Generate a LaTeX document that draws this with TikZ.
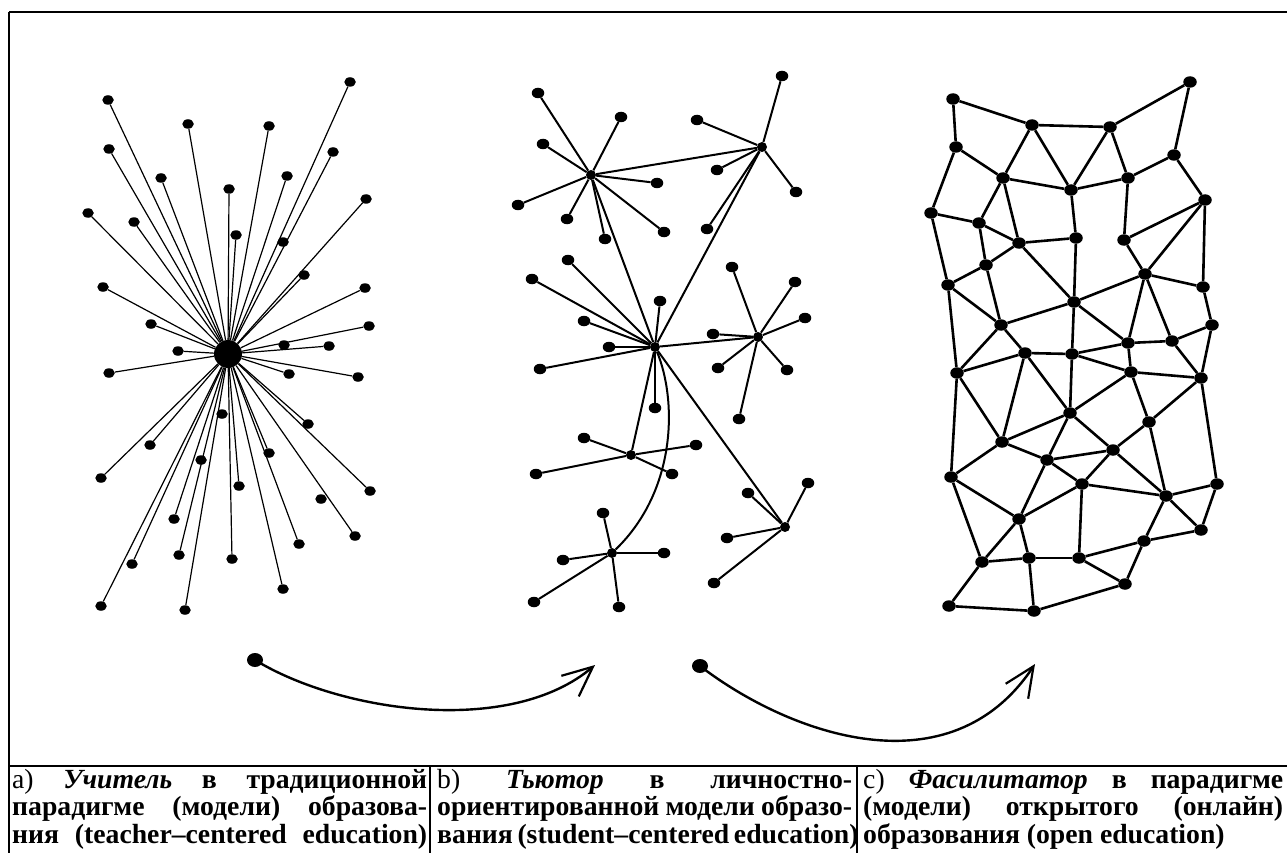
\documentclass[tikz,border=0pt]{standalone}
\usepackage{fontspec}
\setmainfont{Liberation Serif}
\usetikzlibrary{shapes.geometric,arrows.meta}
\newcommand{\capfill}[2]{\makebox[#1][s]{#2}}
\begin{document}
\begin{tikzpicture}[x=1pt,y=-1pt,
  dotA/.style={ellipse,fill=black,inner sep=0pt,minimum width=11.5pt,minimum height=9.5pt},
  hubA/.style={circle,fill=black,inner sep=0pt,minimum size=28pt},
  edgeA/.style={line width=1.2pt,black},
  dotB/.style={ellipse,fill=black,inner sep=0pt,minimum width=12.5pt,minimum height=10.5pt},
  hubB/.style={circle,fill=black,inner sep=0pt,minimum size=10pt},
  edgeB/.style={line width=2pt,black},
  dotC/.style={ellipse,fill=black,inner sep=0pt,minimum width=13.5pt,minimum height=11.5pt},
  edgeC/.style={line width=2.6pt,black},
  startdot/.style={ellipse,fill=black,inner sep=0pt,minimum width=16pt,minimum height=14pt},
  flow/.style={line width=2.4pt,black,-{Straight Barb[length=30pt,width=27pt,line width=2.2pt]}},
  frameline/.style={line width=1.3pt,black},
  sepline/.style={line width=2pt,black},
  capt/.style={inner sep=0pt,anchor=base west,font=\fontsize{27.7pt}{27.7pt}\selectfont\bfseries}
]
\useasboundingbox (0,0) rectangle (1287,853);
\fill[white] (0,0) rectangle (1287,853);

% ---------- frame ----------
\coordinate (fTL) at (9,12);
\coordinate (fTR) at (1287,12);
\coordinate (fBL) at (9,853);
\coordinate (sL) at (9,766);
\coordinate (sR) at (1287,766);
\coordinate (d1t) at (430,766);
\coordinate (d1b) at (430,853);
\coordinate (d2t) at (857,766);
\coordinate (d2b) at (857,853);
\draw[frameline] (fTR) -- (fTL);
\draw[line width=2.4pt] (fTL) -- (fBL);
\draw[sepline] (sL) -- (sR);
\draw[sepline] (d1t) -- (d1b);
\draw[sepline] (d2t) -- (d2b);

% ---------- graph a ----------
\node[hubA] (ac) at (228,354) {};
\foreach \n/\x/\y in {a1/350/82,a2/108/100,a3/188/124,a4/269/126,a5/109/149,a6/333/152,
  a7/161/178,a8/287/176,a9/229/189,a10/366/199,a11/88/213,a12/134/222,a13/236/235,
  a14/283/242,a15/304/275,a16/103/287,a17/365/288,a18/151/324,a19/369/326,a20/284/345,
  a21/329/346,a22/178/351,a23/109/373,a24/289/374,a25/358/377,a26/222/414,a27/308/424,
  a28/150/445,a29/101/478,a30/201/460,a31/269/453,a32/239/486,a33/370/491,a34/321/499,
  a35/174/519,a36/355/536,a37/299/544,a38/179/555,a39/132/564,a40/232/559,a41/283/589,
  a42/101/606,a43/185/610}
  \node[dotA] (\n) at (\x,\y) {};
\foreach \n in {a1,a2,a3,a4,a5,a6,a7,a8,a9,a10,a11,a12,a13,a15,a16,a17,a18,a19,
  a21,a22,a23,a24,a25,a27,a28,a29,a31,a32,a33,a35,a36,a37,a38,a39,a40,a41,a42,a43}
  \draw[edgeA] (ac) -- (\n);

% ---------- graph b ----------
\foreach \n/\x/\y in {b1/591/175,b2/762/147,b3/655/347,b4/758/337,b5/631/455,b6/612/553,b7/785/527}
  \node[hubB] (\n) at (\x,\y) {};
\foreach \n/\x/\y in {b1a/538/93,b1b/621/117,b1c/543/144,b1d/657/183,b1e/518/205,b1f/567/219,
  b1g/605/239,b1h/664/232,
  b2a/782/76,b2b/697/120,b2c/717/170,b2d/796/192,b2e/707/229,
  b3a/568/260,b3b/532/279,b3c/660/301,b3d/584/321,b3e/609/347,b3f/540/369,b3g/655/408,
  b4a/732/267,b4b/795/282,b4c/805/318,b4d/713/334,b4e/718/368,b4f/787/370,b4g/739/419,
  b5a/584/438,b5b/696/445,b5c/672/474,b5d/536/474,
  b6a/603/513,b6b/563/560,b6c/664/553,b6d/534/602,b6e/619/607,
  b7a/808/483,b7b/748/493,b7c/727/538,b7d/714/583}
  \node[dotB] (\n) at (\x,\y) {};
\foreach \h/\n in {b1/b1a,b1/b1b,b1/b1c,b1/b1d,b1/b1e,b1/b1f,b1/b1g,b1/b1h,
  b2/b2a,b2/b2b,b2/b2c,b2/b2d,b2/b2e,
  b3/b3a,b3/b3b,b3/b3c,b3/b3d,b3/b3e,b3/b3f,b3/b3g,
  b4/b4a,b4/b4b,b4/b4c,b4/b4d,b4/b4e,b4/b4f,b4/b4g,
  b5/b5a,b5/b5b,b5/b5c,b5/b5d,
  b6/b6a,b6/b6b,b6/b6c,b6/b6d,b6/b6e,
  b7/b7a,b7/b7b,b7/b7c,b7/b7d,
  b1/b2,b1/b3,b2/b3,b3/b4,b3/b5,b3/b7}
  \draw[edgeB] (\h) -- (\n);
\draw[edgeB] (b3) .. controls (677,400) and (677,490) .. (b6);

% ---------- graph c ----------
\foreach \n/\x/\y in {c1/953/99,c2/1190/82,c3/1032/125,c4/1110/127,c5/956/147,c6/1174/155,
  c7/1003/178,c8/1128/178,c9/1071/190,c10/1205/200,c11/931/213,c12/979/223,c13/1019/243,
  c14/1076/238,c15/1124/240,c16/986/265,c17/1145/274,c18/948/285,c19/1203/287,c20/1074/302,
  c21/1001/325,c22/1212/325,c23/1128/343,c24/1172/341,c25/1025/353,c26/1072/354,
  c27/957/373,c28/1131/372,c29/1201/378,c30/1070/413,c31/1149/422,c32/1002/442,
  c33/1113/450,c34/1047/460,c35/951/477,c36/1082/484,c37/1217/484,c38/1166/496,
  c39/1019/519,c40/1201/530,c41/1144/541,c42/982/562,c43/1029/558,c44/1079/558,
  c45/1125/584,c46/949/606,c47/1034/611}
  \node[dotC] (\n) at (\x,\y) {};
\foreach \a/\b in {c1/c3,c1/c5,c3/c4,c4/c2,c2/c6,c5/c7,c5/c11,c3/c7,c3/c9,c4/c9,c4/c8,
  c6/c8,c6/c10,c7/c9,c8/c9,c7/c12,c7/c13,c9/c14,c8/c15,c10/c15,c10/c17,c10/c19,
  c11/c12,c11/c18,c12/c13,c12/c16,c13/c14,c13/c20,c14/c20,c15/c17,c16/c18,c16/c13,
  c16/c21,c17/c20,c17/c19,c17/c23,c17/c24,c18/c21,c18/c27,c19/c22,c20/c21,c20/c26,
  c20/c23,c21/c25,c21/c27,c22/c24,c22/c29,c23/c24,c23/c26,c23/c28,c24/c29,c25/c26,
  c25/c27,c26/c28,c28/c29,
  c27/c32,c27/c35,c25/c32,c25/c30,c26/c30,c28/c30,c28/c31,c29/c31,c29/c37,c30/c32,
  c30/c34,c30/c33,c31/c33,c31/c38,c32/c34,c32/c35,c33/c34,c33/c36,c33/c38,c34/c36,
  c34/c39,c35/c39,c35/c42,c36/c39,c36/c38,c36/c44,c37/c38,c37/c40,c38/c40,c38/c41,
  c39/c42,c39/c43,c40/c41,c41/c44,c41/c45,c42/c43,c42/c46,c43/c44,c43/c47,c44/c45,
  c45/c47,c46/c47}
  \draw[edgeC] (\a) -- (\b);

% ---------- arrows ----------
\node[startdot] (s1) at (255,660) {};
\coordinate (e1) at (595,665);
\draw[flow] (s1.center) .. controls (340,712) and (510,737) .. (e1);
\node[startdot] (s2) at (700,666) {};
\coordinate (e2) at (1035,664);
\draw[flow] (s2.center) .. controls (790,735) and (950,792) .. (e2);

% ---------- captions ----------
\node[capt] (la1) at (12,788) {\capfill{415pt}{\mdseries a)\ \bfseries\itshape Учитель \upshape в традиционной}};
\node[capt] (la2) at (12,815.5) {\capfill{415pt}{парадигме (модели) образова-}};
\node[capt] (la3) at (12,843) {\capfill{415pt}{ния (teacher–centered education)}};
\node[capt] (lb1) at (437,788) {\capfill{415pt}{\mdseries b)\ \bfseries\itshape Тьютор \upshape в личностно-}};
\node[capt] (lb2) at (437,815.5) {\capfill{415pt}{ориентированной модели образо-}};
\node[capt] (lb3) at (437,843) {\capfill{415pt}{вания (student–centered education)}};
\node[capt] (lc1) at (863,788) {\capfill{420pt}{\mdseries c)\ \bfseries\itshape Фасилитатор \upshape в парадигме}};
\node[capt] (lc2) at (863,815.5) {\capfill{420pt}{(модели) открытого (онлайн)}};
\node[capt] (lc3) at (863,843) {образования (open education)};
\end{tikzpicture}
\end{document}
